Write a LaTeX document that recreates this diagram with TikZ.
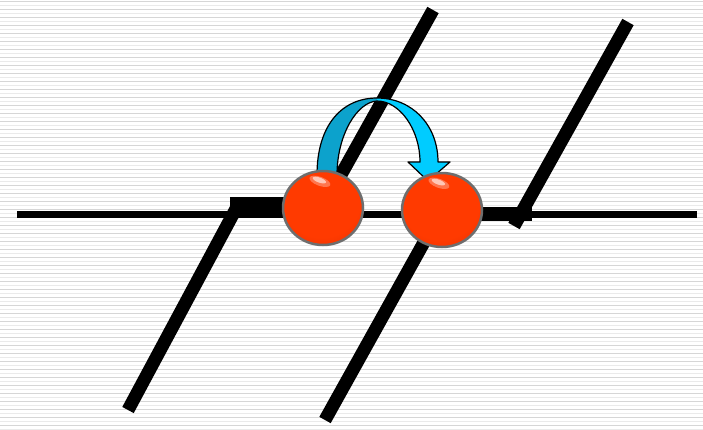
\documentclass[tikz,border=0pt]{standalone}
\usetikzlibrary{shapes.geometric}
\definecolor{stripeA}{RGB}{214,214,214}
\definecolor{stripeB}{RGB}{234,234,234}
\definecolor{ballA}{RGB}{255,58,0}
\definecolor{ballB}{RGB}{225,45,0}
\definecolor{ballC}{RGB}{135,20,0}
\definecolor{rimgray}{RGB}{110,110,110}
\definecolor{arrowL}{RGB}{12,162,204}
\definecolor{arrowR}{RGB}{0,204,255}
\pgfdeclareradialshading{ballshade}{\pgfpoint{-2bp}{8bp}}{color(0bp)=(ballA); color(24bp)=(ballA); color(40bp)=(ballB); color(50bp)=(ballC)}
\begin{document}
\begin{tikzpicture}[x=1pt,y=-1pt,
  plane/.style={line width=13pt,black},
  thinline/.style={line width=6.5pt,black},
  ball/.style={ellipse,minimum width=80pt,minimum height=74pt,inner sep=0pt,shading=ballshade,draw=rimgray,line width=2.5pt},
  shine/.style={fill=white,rotate=-20}]
\useasboundingbox (0,0) rectangle (703,429);
\fill[white] (0,0) rectangle (703,429);
\foreach \i in {0,...,53} {
  \draw[stripeA,line width=1.3pt] (0,\i*8+1.5) -- (703,\i*8+1.5);
  \draw[stripeB,line width=1.6pt] (0,\i*8+5.5) -- (703,\i*8+5.5);
}
% coordinates
\coordinate (hl) at (17,214.5);
\coordinate (hr) at (697,214.5);
\coordinate (l1b) at (128,410);
\coordinate (l1t) at (238,205);
\coordinate (l2t) at (433,10);
\coordinate (l2b) at (323,207);
\coordinate (l3b) at (325,420);
\coordinate (l3t) at (442,210);
\coordinate (l4t) at (628,22);
\coordinate (l4b) at (514,226);
% horizontal line and thick blocks
\draw[thinline] (hl) -- (hr);
\fill[black] (230,197) rectangle (300,217.5);
\fill[black] (470,207) rectangle (532,221);
% inclined planes
\draw[plane] (l1b) -- (l1t);
\draw[plane] (l2t) -- (l2b);
\draw[plane] (l3b) -- (l3t);
\draw[plane] (l4t) -- (l4b);
% curved arrow
\fill[arrowL] (317,175) .. controls (317,125) and (342,98) .. (377,98) -- (377,101) .. controls (357,102) and (337,135) .. (337,175) -- cycle;
\fill[arrowR] (377,98) .. controls (412,98) and (438,125) .. (438,162) -- (450,162) -- (428,181) -- (408,162) -- (420,162) .. controls (420,130) and (400,101) .. (377,101) -- cycle;
\draw[black,line width=1.2pt,line join=round] (317,175) .. controls (317,125) and (342,98) .. (377,98) .. controls (412,98) and (438,125) .. (438,162) -- (450,162) -- (428,181) -- (408,162) -- (420,162) .. controls (420,130) and (400,101) .. (377,101) .. controls (357,102) and (337,135) .. (337,175);
% balls
\node[ball] (b1) at (323,208) {};
\node[ball] (b2) at (442,210) {};
\fill[shine,opacity=0.3] ([shift={(-12,-24)}]b1.center) ellipse [x radius=11, y radius=4.5];
\fill[shine,opacity=0.6] ([shift={(-13,-25)}]b1.center) ellipse [x radius=7, y radius=2.5];
\fill[shine,opacity=0.3] ([shift={(-12,-24)}]b2.center) ellipse [x radius=11, y radius=4.5];
\fill[shine,opacity=0.6] ([shift={(-13,-25)}]b2.center) ellipse [x radius=7, y radius=2.5];
\end{tikzpicture}
\end{document}
